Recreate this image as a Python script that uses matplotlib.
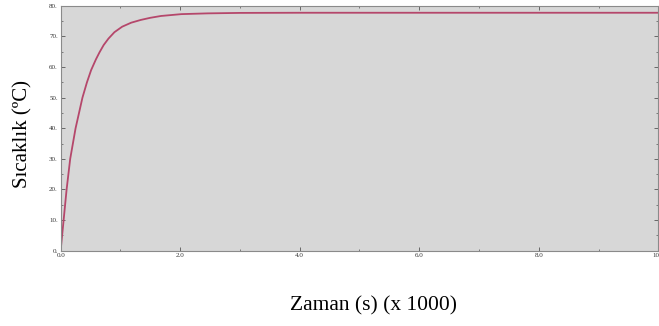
import matplotlib
matplotlib.use('Agg')
import matplotlib.pyplot as plt

# Zaman (x 1000 s) ve sıcaklık (ºC) değerleri
zaman = [0.0, 0.05, 0.10, 0.16, 0.25, 0.365, 0.44, 0.51, 0.59, 0.65, 0.72,
         0.80, 0.90, 1.03, 1.18, 1.34, 1.50, 1.68, 2.02, 2.46, 3.0, 4.0,
         6.0, 8.0, 10.0]
sicaklik = [0.0, 10.0, 20.0, 30.0, 40.0, 50.0, 55.0, 59.0, 62.5, 64.8, 67.2,
            69.3, 71.4, 73.2, 74.5, 75.4, 76.1, 76.7, 77.3, 77.55, 77.7, 77.75,
            77.75, 77.75, 77.75]

x_ticks = [0, 2, 4, 6, 8, 10]
x_tick_labels = ['0.0', '2.0', '4.0', '6.0', '8.0', '10.0']
y_ticks = [0, 10, 20, 30, 40, 50, 60, 70, 80]
y_tick_labels = ['0.', '10.', '20.', '30.', '40.', '50.', '60.', '70.', '80.']

fig = plt.figure(figsize=(6.59, 3.26), dpi=100)
ax = fig.add_axes([0.092, 0.231, 0.907, 0.751])
ax.set_facecolor('#d7d7d7')

ax.plot(zaman, sicaklik, color='#b5476b', linewidth=1.3)

ax.set_xlim(0, 10)
ax.set_ylim(0, 80)
ax.set_xticks(x_ticks)
ax.set_xticklabels(x_tick_labels)
ax.set_yticks(y_ticks)
ax.set_yticklabels(y_tick_labels)
ax.set_xticks([1, 3, 5, 7, 9], minor=True)
ax.set_yticks([5, 15, 25, 35, 45, 55, 65, 75], minor=True)

ax.tick_params(which='both', direction='in', top=True, right=True,
               color='#555555', labelsize=5, pad=2)
ax.tick_params(which='major', length=3, width=0.6)
ax.tick_params(which='minor', length=1.5, width=0.5)
for lbl in ax.get_xticklabels() + ax.get_yticklabels():
    lbl.set_family('Liberation Serif')
    lbl.set_color('#333333')
for sp in ax.spines.values():
    sp.set_color('#8a8a8a')
    sp.set_linewidth(0.8)

fig.text(0.034, 0.589, 'Sıcaklık (ºC)', rotation=90, ha='center', va='center',
         family='Liberation Serif', fontsize=15)
fig.text(0.567, 0.061, 'Zaman (s) (x 1000)', ha='center', va='center',
         family='Liberation Serif', fontsize=15.5)

fig.savefig('out.png', dpi=100)
